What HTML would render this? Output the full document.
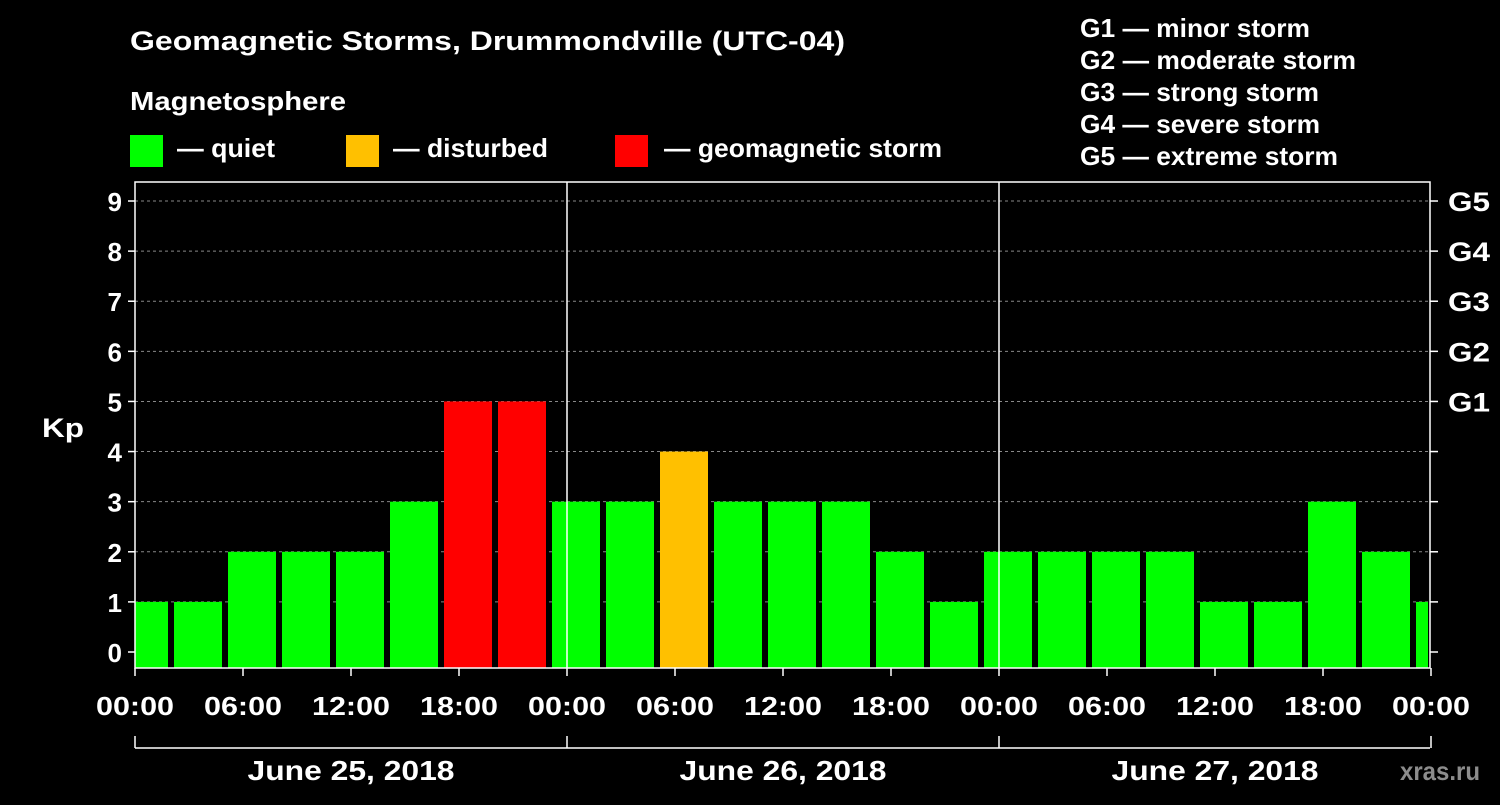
<!DOCTYPE html>
<html><head><meta charset="utf-8"><style>
body{margin:0;background:#000;width:1500px;height:800px;overflow:hidden;font-family:"Liberation Sans",Arial,sans-serif}
text{font-family:"Liberation Sans",Arial,sans-serif;font-weight:bold;fill:#fff}
</style></head><body>
<svg id="c" width="1500" height="800" xmlns="http://www.w3.org/2000/svg">
<text x="130" y="50" font-size="27" textLength="715" lengthAdjust="spacingAndGlyphs">Geomagnetic Storms, Drummondville (UTC-04)</text>
<text x="130" y="110" font-size="26" textLength="216" lengthAdjust="spacingAndGlyphs">Magnetosphere</text>
<rect x="130" y="135" width="33" height="32" fill="#00ff00"/>
<text x="177" y="157" font-size="26" textLength="98" lengthAdjust="spacingAndGlyphs">— quiet</text>
<rect x="346" y="135" width="33" height="32" fill="#ffc000"/>
<text x="393" y="157" font-size="26" textLength="155" lengthAdjust="spacingAndGlyphs">— disturbed</text>
<rect x="615" y="135" width="33" height="32" fill="#ff0000"/>
<text x="664" y="157" font-size="26" textLength="278" lengthAdjust="spacingAndGlyphs">— geomagnetic storm</text>
<g font-size="26">
<text x="1080" y="37" textLength="230" lengthAdjust="spacingAndGlyphs">G1 — minor storm</text>
<text x="1080" y="69" textLength="276" lengthAdjust="spacingAndGlyphs">G2 — moderate storm</text>
<text x="1080" y="101" textLength="239" lengthAdjust="spacingAndGlyphs">G3 — strong storm</text>
<text x="1080" y="133" textLength="240" lengthAdjust="spacingAndGlyphs">G4 — severe storm</text>
<text x="1080" y="165" textLength="258" lengthAdjust="spacingAndGlyphs">G5 — extreme storm</text>
</g>
<text x="42" y="437" font-size="27" textLength="42" lengthAdjust="spacingAndGlyphs">Kp</text>
<text x="1400" y="780" font-size="26" textLength="80" lengthAdjust="spacingAndGlyphs" style="fill:#8c8c8c">xras.ru</text>
<g id="grid"></g><g id="bars"></g><g id="axes"></g>
</svg>
<script>
const kpValues=[1,1,2,2,2,3,5,5,3,3,4,3,3,3,2,1,2,2,2,2,1,1,3,2,1];
const yTicks=[0,1,2,3,4,5,6,7,8,9];
const gLabels=["G1","G2","G3","G4","G5"];
const xTickLabels=["00:00","06:00","12:00","18:00","00:00","06:00","12:00","18:00","00:00","06:00","12:00","18:00","00:00"];
const dayLabels=["June 25, 2018","June 26, 2018","June 27, 2018"];
const L=135,R=1430,T=182,B=668;
const NS="http://www.w3.org/2000/svg";
const y=v=>652-v*50.11;
const x=h=>L+h*18;
function mk(tag,attrs,parent){const e=document.createElementNS(NS,tag);for(const k in attrs)e.setAttribute(k,attrs[k]);document.getElementById(parent).appendChild(e);return e;}
yTicks.forEach(v=>{
  if(v>0){const g=mk('line',{x1:L,x2:R,y1:y(v),y2:y(v),stroke:'#888','stroke-dasharray':'3,3','stroke-width':1},'grid');
  
  }
  const t=mk('text',{x:L-13,y:y(v)+10,'font-size':26,'text-anchor':'end'},'axes');t.textContent=v;
  
  
  mk('line',{x1:L-7,x2:L,y1:y(v),y2:y(v),stroke:'#fff','stroke-width':1.5},'axes');
  mk('line',{x1:R,x2:R+8,y1:y(v),y2:y(v),stroke:'#fff','stroke-width':1.5},'axes');
});
gLabels.forEach((g,i)=>{const t=mk('text',{x:R+18,y:y(i+5)+10,'font-size':27,textLength:42,lengthAdjust:'spacingAndGlyphs'},'axes');t.textContent=g;
  
  });
kpValues.forEach((v,i)=>{
  const h0=i*3-0.8333;
  const x0=Math.max(x(h0),L), x1=Math.min(x(h0)+48,R-2);
  const c=v>=5?'#ff0000':v>=4?'#ffc000':'#00ff00';
  const r=mk('rect',{x:x0,y:y(v),width:x1-x0,height:B-y(v),fill:c},'bars');
  
  
});
mk('rect',{x:L,y:T,width:R-L,height:B-T,fill:'none',stroke:'#fff','stroke-width':1.5},'axes');
[1,2].forEach(d=>mk('line',{x1:x(24*d),x2:x(24*d),y1:T,y2:B,stroke:'#fff','stroke-width':1.5},'axes'));
xTickLabels.forEach((s,i)=>{const xx=x(i*6);
  mk('line',{x1:xx,x2:xx,y1:B,y2:B+8,stroke:'#fff','stroke-width':1.5},'axes');
  const t=mk('text',{x:xx,y:715,'font-size':26,'text-anchor':'middle',textLength:78,lengthAdjust:'spacingAndGlyphs'},'axes');t.textContent=s;
  
  });
mk('line',{x1:L,x2:R,y1:748,y2:748,stroke:'#fff','stroke-width':1.5},'axes');
[0,1,2,3].forEach(d=>mk('line',{x1:x(24*d),x2:x(24*d),y1:736,y2:748,stroke:'#fff','stroke-width':1.5},'axes'));
dayLabels.forEach((s,i)=>{const t=mk('text',{x:x(24*i+12),y:780,'font-size':28,'text-anchor':'middle',textLength:207,lengthAdjust:'spacingAndGlyphs'},'axes');t.textContent=s;
  
  });
</script>
</body></html>
